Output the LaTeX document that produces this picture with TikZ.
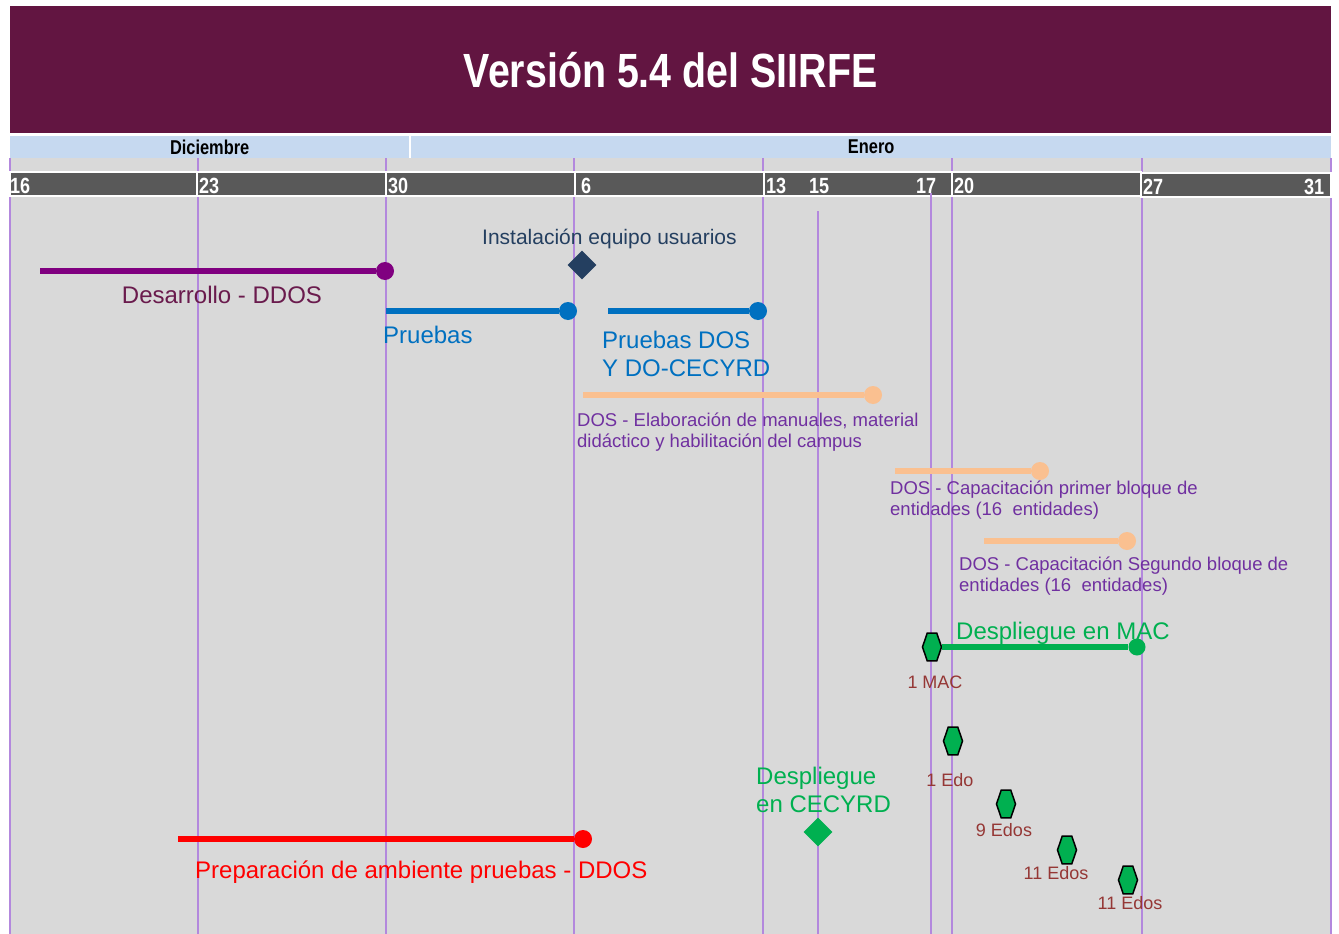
\documentclass[tikz,border=0pt]{standalone}
\usepackage{fontspec}
\setmainfont{Liberation Sans}
\newfontfamily\narrowfont[FakeStretch=0.82]{Liberation Sans}
\usetikzlibrary{positioning}
\usetikzlibrary{shapes.geometric}
\definecolor{headmaroon}{HTML}{621541}
\definecolor{monthblue}{HTML}{C6D9F0}
\definecolor{dategray}{HTML}{595959}
\definecolor{bggray}{HTML}{D9D9D9}
\definecolor{gridlav}{HTML}{B388DD}
\definecolor{devpurple}{HTML}{800080}
\definecolor{devtext}{HTML}{6A1B4D}
\definecolor{testblue}{HTML}{0070C0}
\definecolor{navy}{HTML}{243F60}
\definecolor{peach}{HTML}{FAC090}
\definecolor{dosviolet}{HTML}{7030A0}
\definecolor{deploygreen}{HTML}{00B050}
\definecolor{edored}{HTML}{953735}
\newcommand\bigtext{\fontsize{24}{28}\selectfont}
\newcommand\smalltext{\fontsize{18.5}{20.5}\selectfont}

\begin{document}
\begin{tikzpicture}[
    x=1pt, y=-1pt,
    header/.style = {
        fill=headmaroon,
        text=white,
        inner sep=0pt,
        anchor=north west,
        font=\narrowfont\bfseries\fontsize{48}{56}\selectfont
      },
    month/.style = {
        fill=monthblue,
        inner sep=0pt,
        minimum height=22pt,
        anchor=north west,
        font=\narrowfont\bfseries\fontsize{20}{24}\selectfont
      },
    vline/.style = {draw=gridlav, line width=2pt},
    datebox/.style = {draw=white, line width=2pt, fill=dategray},
    datelbl/.style = {
        text=white,
        inner sep=0pt,
        anchor=base west,
        font=\narrowfont\bfseries\fontsize{22}{24}\selectfont
      },
    bar/.style = {line width=6pt},
    enddot/.style = {circle, inner sep=0pt, minimum size=18pt},
    milestone/.style = {diamond, inner sep=0pt, minimum size=29pt},
    hexa/.style = {
        regular polygon,
        regular polygon sides=6,
        draw=black,
        line width=1.5pt,
        fill=deploygreen,
        inner sep=0pt,
        minimum size=19pt,
        yscale=1.7
      },
    lbl/.style = {inner sep=0pt, anchor=base west, font=\bigtext},
    note/.style = {inner sep=0pt, anchor=base west, align=left, font=\smalltext, text=dosviolet},
    edo/.style = {inner sep=0pt, text=edored, font=\fontsize{18}{20}\selectfont},
    ]
    \useasboundingbox (0,0) rectangle (1339,934);

    % heading and months
    \node (title) [header, minimum width=1321pt, minimum height=127pt] at (10,6) {Versión 5.4 del SIIRFE};
    \node (dic) [month, minimum width=399pt] at (10,136) {Diciembre};
    \node (ene) [month, minimum width=920pt] at (411,136) {Enero};
    \fill [bggray] (10,158) rectangle (1331,934);

    % week lines
    \draw [vline] (10,158) -- (10,934);
    \draw [vline] (198,158) -- (198,934);
    \draw [vline] (386,158) -- (386,934);
    \draw [vline] (574,158) -- (574,934);
    \draw [vline] (763,158) -- (763,934);
    \draw [vline] (952,158) -- (952,934);
    \draw [vline] (1142,158) -- (1142,934);
    \draw [vline] (1331,158) -- (1331,934);

    % date bar
    \draw [datebox] (10,172) rectangle (197,196);
    \draw [datebox] (197,172) rectangle (386,196);
    \draw [datebox] (386,172) rectangle (575,196);
    \draw [datebox] (575,172) rectangle (764,196);
    \draw [datebox] (764,172) rectangle (952,196);
    \draw [datebox] (952,172) rectangle (1141,196);
    \draw [datebox] (1141,173) rectangle (1331,197);
    \draw [vline] (818,211) -- (818,934);
    \draw [vline] (931,193) -- (931,934);

    \node (d16) [datelbl] at (10,193) {16};
    \node (d23) [datelbl] at (199,193) {23};
    \node (d30) [datelbl] at (388,193) {30};
    \node (d6) [datelbl] at (581,193) {6};
    \node (d13) [datelbl] at (766,193) {13};
    \node (d15) [datelbl] at (809,193) {15};
    \node (d17) [datelbl] at (916,193) {17};
    \node (d20) [datelbl] at (954,193) {20};
    \node (d27) [datelbl] at (1143,194) {27};
    \node (d31) [datelbl] at (1304,194) {31};

    % development and tests
    \coordinate (dev start) at (40,271);
    \node (dev end) [enddot, fill=devpurple] at (385,271) {};
    \draw [bar, devpurple] (dev start) -- (dev end);
    \node (dev lbl) [lbl, text=devtext, anchor=base] at (222,303) {Desarrollo - DDOS};

    \node (install) [milestone, fill=navy] at (582,265) {};
    \node (install lbl) [lbl, text=navy, font=\fontsize{21}{24}\selectfont] at (482,244) {Instalación equipo usuarios};

    \coordinate (test start) at (386,311);
    \node (test end) [enddot, fill=testblue] at (568,311) {};
    \draw [bar, testblue] (test start) -- (test end);
    \node (test lbl) [lbl, text=testblue] at (383,343) {Pruebas};

    \coordinate (dos start) at (608,311);
    \node (dos end) [enddot, fill=testblue] at (758,311) {};
    \draw [bar, testblue] (dos start) -- (dos end);
    \node (dos lbl) [lbl, text=testblue, align=left] at (602,376) {Pruebas DOS\\Y DO-CECYRD};

    % training
    \coordinate (manual start) at (583,395);
    \node (manual end) [enddot, fill=peach] at (873,395) {};
    \draw [bar, peach] (manual start) -- (manual end);
    \node (manual lbl) [note] at (577,447) {DOS - Elaboración de manuales, material\\didáctico y habilitación del campus};

    \coordinate (first start) at (895,471);
    \node (first end) [enddot, fill=peach] at (1040,471) {};
    \draw [bar, peach] (first start) -- (first end);
    \node (first lbl) [note] at (890,515) {DOS - Capacitación primer bloque de\\entidades (16~ entidades)};

    \coordinate (second start) at (984,541);
    \node (second end) [enddot, fill=peach] at (1127,541) {};
    \draw [bar, peach] (second start) -- (second end);
    \node (second lbl) [note] at (959,591) {DOS - Capacitación Segundo bloque de\\entidades (16~ entidades)};

    % deployment
    \node (mac end) [enddot, minimum size=17pt, fill=deploygreen] at (1137,647) {};
    \node (mac) [hexa] at (932,647) {};
    \draw [bar, deploygreen] (mac) -- (mac end);
    \node (mac lbl) [lbl, text=deploygreen] at (956,639) {Despliegue en MAC};
    \node (mac edo) [edo, below=13pt of mac, xshift=3pt] {1 MAC};

    \node (edo a) [hexa] at (953,741) {};
    \node (edo a lbl) [edo, below=17pt of edo a, xshift=-3pt] {1 Edo};
    \node (edo b) [hexa] at (1006,804) {};
    \node (edo b lbl) [edo, below=4pt of edo b, xshift=-2pt] {9 Edos};
    \node (edo c) [hexa] at (1067,850) {};
    \node (edo c lbl) [edo, below=1pt of edo c, xshift=-11pt] {11 Edos};
    \node (edo d) [hexa] at (1128,880) {};
    \node (edo d lbl) [edo, below=1pt of edo d, xshift=2pt] {11 Edos};

    \node (cecyrd) [milestone, fill=deploygreen] at (818,832) {};
    \node (cecyrd lbl) [lbl, text=deploygreen, align=left, font=\fontsize{24}{27.5}\selectfont] at (756,812) {Despliegue\\en CECYRD};

    % environment
    \coordinate (env start) at (178,839);
    \node (env end) [enddot, fill=red] at (583,839) {};
    \draw [bar, red] (env start) -- (env end);
    \node (env lbl) [lbl, text=red] at (195,878) {Preparación de ambiente pruebas - DDOS};
  \end{tikzpicture}
\end{document}
